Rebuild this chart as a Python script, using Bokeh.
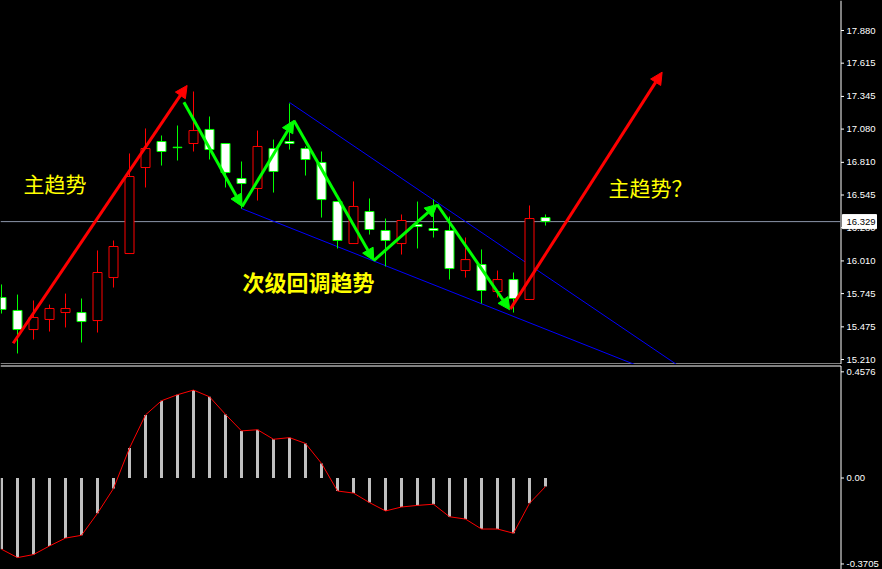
from bokeh.plotting import figure
from bokeh.layouts import column
from bokeh.models import ColumnDataSource, Label, Arrow, NormalHead, Range1d
from bokeh.core.properties import value
from bokeh.embed import file_html
from bokeh.resources import INLINE

# ---- price bars (one per session) ----
bar_index = list(range(35))
open_ = [15.713, 15.608, 15.453, 15.535, 15.591, 15.591, 15.526, 15.875, 16.070, 16.768,
         16.979, 16.933, 16.963, 17.077, 16.963, 16.679, 16.598, 16.922, 16.979, 16.922,
         16.809, 16.492, 16.151, 16.411, 16.257, 16.151, 16.306, 16.273, 16.257, 15.932,
         15.981, 15.762, 15.859, 15.697, 16.362]
high = [15.819, 15.737, 15.689, 15.656, 15.745, 15.705, 16.095, 16.176, 16.882, 17.085,
        17.028, 17.109, 17.385, 17.182, 16.963, 16.817, 17.068, 16.995, 17.288, 16.940,
        16.898, 16.492, 16.655, 16.517, 16.354, 16.387, 16.492, 16.508, 16.370, 16.200,
        16.103, 15.932, 15.916, 16.460, 16.387]
low = [15.583, 15.259, 15.372, 15.437, 15.470, 15.348, 15.429, 15.794, 16.070, 16.606,
       16.784, 16.825, 16.898, 16.833, 16.606, 16.435, 16.500, 16.565, 16.914, 16.703,
       16.362, 16.111, 16.151, 16.224, 15.965, 16.062, 16.111, 16.200, 15.859, 15.875,
       15.664, 15.713, 15.591, 15.697, 16.297]
close = [15.616, 15.453, 15.551, 15.624, 15.624, 15.518, 15.916, 16.127, 16.695, 16.922,
         16.898, 16.929, 17.068, 16.914, 16.728, 16.638, 16.939, 16.736, 16.963, 16.833,
         16.508, 16.176, 16.452, 16.265, 16.176, 16.338, 16.289, 16.257, 15.948, 16.021,
         15.770, 15.859, 15.705, 16.354, 16.329]
last_price = 16.329

# ---- MACD histogram ----
macd = [-0.307, -0.343, -0.330, -0.293, -0.259, -0.247, -0.152, -0.045, 0.129, 0.272,
        0.333, 0.359, 0.379, 0.350, 0.274, 0.203, 0.208, 0.167, 0.174, 0.149,
        0.063, -0.056, -0.065, -0.106, -0.142, -0.125, -0.118, -0.113, -0.167, -0.177,
        -0.220, -0.220, -0.238, -0.109, -0.037]

# ---- price scale ticks ----
price_ticks = [17.880, 17.615, 17.345, 17.080, 16.810, 16.545, 16.280, 16.010, 15.745, 15.475, 15.210]
price_tick_labels = [f"{t:.3f}" for t in price_ticks]
macd_ticks = [0.4576, 0.0, -0.3705]
macd_tick_labels = ["0.4576", "0.00", "-0.3705"]

# ---- hand-drawn trend annotations (bar index, price) ----
main_trend_x = [0.73, 11.6]
main_trend_y = [15.342, 17.434]
pullback_x = [11.4, 15.04, 18.27, 23.27, 27.23, 31.77]
pullback_y = [17.298, 16.452, 17.150, 16.013, 16.468, 15.613]
next_trend_x = [31.81, 41.29]
next_trend_y = [15.621, 17.542]
channel_top_x = [18, 45]
channel_top_y = [17.296, 14.923]
channel_bottom_x = [15, 45]
channel_bottom_y = [16.435, 14.890]

label_main = "主趋势"
label_pullback = "次级回调趋势"
label_next = "主趋势？"

BULL = "#ff0000"
BEAR_LINE = "#00ff00"
BEAR_FILL = "#ffffff"
AXIS_FONT = "Liberation Sans"
CJK_FONT = "Noto Sans CJK SC"

# horizontal layout: one bar every 16 px, price scale strip on the right
PX = 1 / 16                      # one pixel in bar units
X0 = -1 * PX
x_range = Range1d(X0, X0 + 882 * PX)
SCALE_X = X0 + 840.5 * PX        # price scale line
TICK_END = X0 + 843.5 * PX
LABEL_X = X0 + 846 * PX
PLOT_RIGHT = X0 + 840 * PX

# vertical layout
K_PRICE = 0.0081155              # price per pixel
PRICE_TOP = 18.1235
UPPER_H = 364
K_MACD = 0.00431
LOWER_H = 205
MACD_TOP = 113.5 * K_MACD


def panel(height, y_start, y_end):
    f = figure(width=882, height=height, x_range=x_range,
               y_range=Range1d(y_start, y_end), output_backend="svg",
               toolbar_location=None, tools="", min_border=0,
               x_axis_location=None, y_axis_location=None,
               background_fill_color="black", border_fill_color="black",
               outline_line_color=None)
    f.grid.visible = False
    return f


def price_scale(f, ticks, labels, y_lo, y_hi):
    f.segment(x0=SCALE_X, y0=y_lo, x1=SCALE_X, y1=y_hi, line_color="white", line_width=1)
    f.segment(x0=SCALE_X, y0=ticks, x1=TICK_END, y1=ticks, line_color="white", line_width=1)
    f.text(x=LABEL_X, y=ticks, text=labels, text_color="white",
           text_font=value(AXIS_FONT), text_font_size=value("9.5px"),
           text_align="left", text_baseline="middle")


# ---------- upper panel: candles ----------
p_lo = PRICE_TOP - UPPER_H * K_PRICE
p = panel(UPPER_H, p_lo, PRICE_TOP)
sep_upper = PRICE_TOP - 363.5 * K_PRICE
p.segment(x0=X0, y0=sep_upper, x1=SCALE_X, y1=sep_upper, line_color="white", line_width=1)
price_scale(p, price_ticks, price_tick_labels, sep_upper, PRICE_TOP)

bull = [c > o for o, c in zip(open_, close)]
src = ColumnDataSource(dict(
    x=bar_index, high=high, low=low,
    top=[max(o, c) for o, c in zip(open_, close)],
    bottom=[min(o, c) for o, c in zip(open_, close)],
    line=[BULL if b else BEAR_LINE for b in bull],
    fill=["black" if b else BEAR_FILL for b in bull],
))

# current price line
p.segment(x0=X0, y0=last_price, x1=PLOT_RIGHT, y1=last_price, line_color="#8c96aa", line_width=1)

# trend channel
p.line(channel_top_x, channel_top_y, line_color="#0000ff", line_width=1)
p.line(channel_bottom_x, channel_bottom_y, line_color="#0000ff", line_width=1)

p.segment(x0="x", y0="low", x1="x", y1="high", line_color="line", line_width=1, source=src)
p.vbar(x="x", top="top", bottom="bottom", width=9 * PX, fill_color="fill",
       line_color="line", line_width=1, source=src)


def arrow(x0, y0, x1, y1, color):
    p.add_layout(Arrow(x_start=x0, y_start=y0, x_end=x1, y_end=y1,
                       line_color=color, line_width=3,
                       end=NormalHead(size=12, fill_color=color, line_color=color, line_width=1)))


arrow(main_trend_x[0], main_trend_y[0], main_trend_x[1], main_trend_y[1], "#ff0000")
for i in range(len(pullback_x) - 1):
    arrow(pullback_x[i], pullback_y[i], pullback_x[i + 1], pullback_y[i + 1], "#00ff00")
arrow(next_trend_x[0], next_trend_y[0], next_trend_x[1], next_trend_y[1], "#ff0000")

p.add_layout(Label(x=1.375, y=16.646, text=label_main, text_color="#ffff00",
                   text_font=CJK_FONT, text_font_size="21px", text_baseline="middle"))
p.add_layout(Label(x=15.06, y=15.851, text=label_pullback, text_color="#ffff00",
                   text_font=CJK_FONT, text_font_size="22px", text_font_style="bold",
                   text_baseline="middle"))
p.add_layout(Label(x=37.94, y=16.606, text=label_next, text_color="#ffff00",
                   text_font=CJK_FONT, text_font_size="21px", text_baseline="middle"))

# last price tag on the scale
p.rect(x=X0 + 859 * PX, y=last_price, width=34, height=14, width_units="screen",
       height_units="screen", fill_color="white", line_color="white")
p.text(x=LABEL_X, y=[last_price], text=[f"{last_price:.3f}"], text_color="black",
       text_font=value(AXIS_FONT), text_font_size=value("9.5px"),
       text_align="left", text_baseline="middle")

# ---------- lower panel: MACD ----------
m_lo = MACD_TOP - LOWER_H * K_MACD
q = panel(LOWER_H, m_lo, MACD_TOP)
sep_lower = MACD_TOP - 1.5 * K_MACD
q.segment(x0=X0, y0=sep_lower, x1=SCALE_X, y1=sep_lower, line_color="white", line_width=1)
price_scale(q, macd_ticks, macd_tick_labels, m_lo, sep_lower)

q.vbar(x=bar_index, top=macd, bottom=0, width=3 * PX, fill_color="#c0c0c0", line_color=None)
q.line(bar_index, macd, line_color="#ff0000", line_width=1)

layout = column(p, q, spacing=0, styles={"background-color": "black"})

open("out.html", "w").write(file_html(layout, INLINE))
